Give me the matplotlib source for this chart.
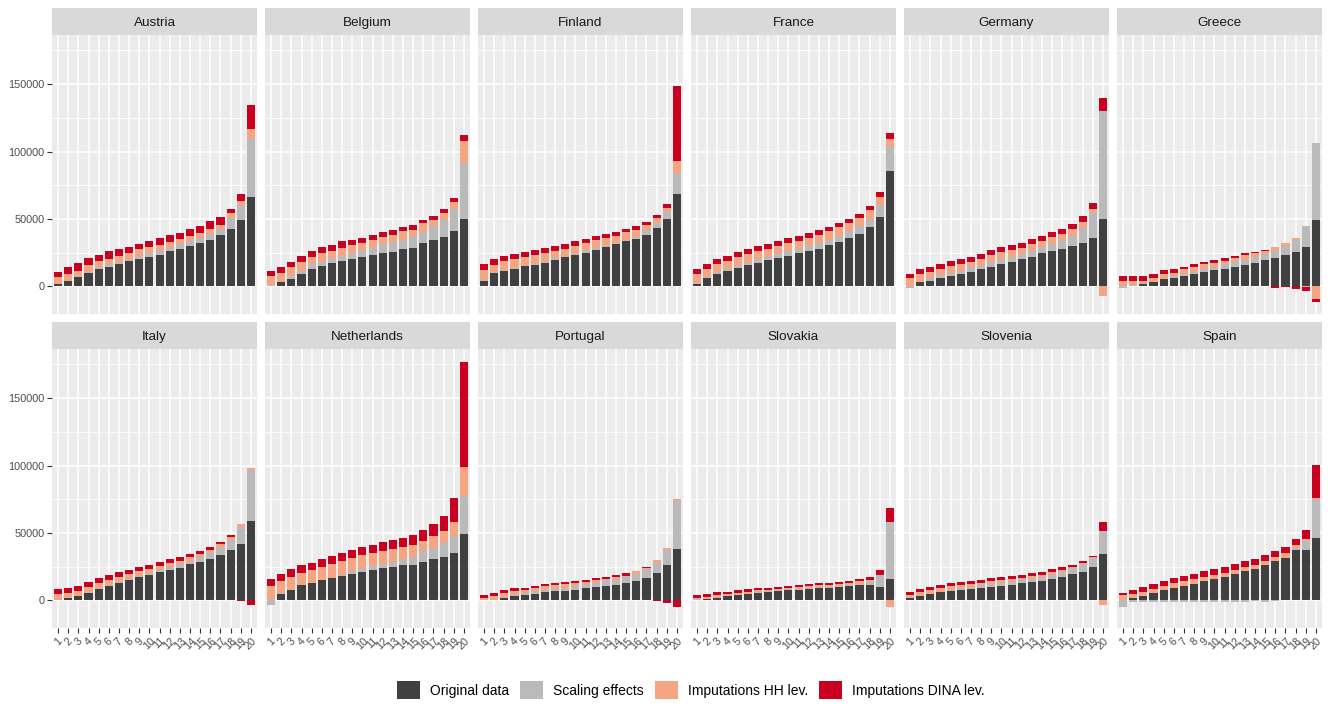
import numpy as np
import matplotlib.pyplot as plt
from matplotlib.patches import Rectangle, Patch

plt.rcParams['font.family'] = ['Liberation Sans', 'DejaVu Sans']

countries = ['Austria', 'Belgium', 'Finland', 'France', 'Germany', 'Greece',
             'Italy', 'Netherlands', 'Portugal', 'Slovakia', 'Slovenia', 'Spain']
groups = [str(i) for i in range(1, 21)]

components = ['Original data', 'Scaling effects', 'Imputations HH lev.', 'Imputations DINA lev.']
colors = ['#404040', '#BABABA', '#F4A582', '#CA0020']

# original data per country (20 groups)
original = {
    'Austria': [1500, 3900, 6900, 9800, 12800, 14300, 16500, 18700, 20200, 21600,
                23600, 26100, 27600, 29800, 32000, 34700, 37900, 42300, 49400, 66400],
    'Belgium': [700, 3000, 5900, 9600, 13300, 15500, 17700, 19200, 20700, 22100,
                23600, 25100, 25800, 28000, 28800, 32500, 34700, 36900, 41300, 50200],
    'Finland': [4400, 9800, 11300, 12800, 15000, 16200, 17700, 19400, 21600, 23600,
                25100, 27300, 29500, 31200, 33500, 35400, 38400, 43500, 50200, 68600],
    'France': [2200, 6200, 8900, 11800, 14000, 16200, 17700, 19900, 21400, 22900,
               25100, 26600, 28000, 31000, 33200, 36200, 39100, 44300, 51700, 85600],
    'Germany': [500, 3000, 4400, 6600, 8100, 9600, 11100, 13300, 14800, 17000,
                18500, 20700, 22100, 25100, 26600, 28000, 30300, 32500, 36200, 50200],
    'Greece': [0, 700, 1500, 3000, 5200, 6600, 8100, 9600, 11100, 12500,
               13300, 14800, 16200, 17700, 19900, 21400, 23600, 25800, 29500, 49400],
    'Italy': [0, 1500, 3200, 5500, 8400, 10700, 12900, 15100, 17400, 18800,
              21100, 22600, 24100, 27000, 28500, 30500, 33500, 37200, 41700, 58800],
    'Netherlands': [0, 4500, 7400, 11200, 12600, 14900, 16400, 17900, 19300, 20800,
                    22300, 23800, 24600, 26000, 26000, 28300, 30500, 32000, 35000, 49100],
    'Portugal': [0, 500, 1500, 3000, 3700, 4500, 6000, 6700, 6700, 7400,
                 8900, 9700, 10400, 11200, 12600, 14100, 16400, 20100, 26000, 37900],
    'Slovakia': [500, 1200, 2000, 3200, 4000, 4700, 5500, 6200, 6700, 7700,
                 7700, 8400, 9200, 9200, 9900, 10700, 11400, 11400, 9900, 15900],
    'Slovenia': [1700, 3200, 4700, 6200, 6900, 7700, 8400, 9200, 9900, 10700,
                 11400, 12900, 13600, 14400, 15900, 17400, 19600, 21100, 24800, 34500],
    'Spain': [0, 1500, 3000, 5200, 7400, 8900, 10400, 11900, 14100, 15600,
              17100, 19300, 21600, 23100, 26000, 29000, 31200, 37200, 37200, 46100],
}

scaling = {
    'Austria': [500, 300, 500, 700, 1500, 2000, 1200, 1000, 2000, 3000,
                2500, 2500, 3700, 4200, 4200, 4400, 4900, 8100, 10300, 43000],
    'Belgium': [500, 200, 1500, 2200, 3000, 3000, 3700, 3700, 4400, 5200,
                5200, 6200, 6900, 6600, 8600, 8100, 9800, 12500, 16200, 41300],
    'Finland': [500, 700, 1000, 1000, 300, 700, 500, 1500, 500, 500,
                1700, 1200, 700, 1200, 1200, 1500, 3200, 3700, 5200, 15500],
    'France': [500, 500, 1500, 1500, 1000, 1500, 3000, 2200, 3000, 3700,
               3000, 3700, 4400, 3700, 4400, 5200, 5900, 5900, 8900, 17700],
    'Germany': [-1200, 500, 2200, 2200, 2200, 2200, 3000, 2200, 3000, 3000,
                3700, 3700, 4400, 4400, 5200, 6600, 7400, 11100, 19200, 79700],
    'Greece': [-800, 500, 700, 0, 700, 1500, 1500, 2200, 2200, 2200,
               3700, 4400, 3700, 4400, 4400, 5200, 6600, 8900, 15500, 56800],
    'Italy': [500, 500, 300, 700, 500, 500, 700, 500, 700, 1500,
              1200, 2000, 2700, 1200, 3500, 4500, 5200, 7400, 12600, 37900],
    'Netherlands': [-3000, 700, 500, 500, 0, 0, 200, 700, 2200, 3000,
                    3000, 3000, 3700, 4500, 6000, 8200, 8200, 11200, 12600, 28300],
    'Portugal': [0, 0, 700, 1500, 1500, 2200, 1500, 1500, 2200, 3000,
                 3000, 3000, 4500, 4500, 5200, 5200, 6700, 7400, 11200, 35700],
    'Slovakia': [1000, 200, 200, 200, 200, 200, 500, 500, 700, 500,
                 700, 700, 700, 1500, 700, 1500, 700, 3000, 8900, 42400],
    'Slovenia': [700, 200, 200, 200, 1000, 1500, 1500, 2000, 2200, 2200,
                 2200, 2200, 2200, 3000, 3000, 3700, 4500, 6000, 6700, 17100],
    'Spain': [-4500, -1200, -1200, -1200, -1200, -1200, -1200, -1200, -1200, -1200,
              -1200, -1200, -1200, -700, -1200, -500, 0, 1500, 6700, 29000],
}

imp_hh = {
    'Austria': [4900, 5400, 4400, 5400, 4400, 4200, 4900, 5400, 5700, 4400,
                4700, 4400, 3900, 3700, 3400, 3400, 3000, 3700, 3700, 7600],
    'Belgium': [6200, 6600, 6900, 6600, 5900, 6600, 5200, 5900, 5900, 5200,
                5900, 5700, 5700, 6200, 4700, 6200, 4900, 5200, 4900, 16200],
    'Finland': [7000, 5700, 6900, 6900, 6900, 6600, 6900, 5700, 5900, 6200,
                5400, 6200, 5900, 5200, 5900, 5200, 4200, 3700, 3000, 8900],
    'France': [6200, 5900, 5900, 5900, 7100, 6600, 5900, 5900, 5900, 5400,
               5900, 5900, 5900, 6600, 6600, 5900, 5900, 6600, 5900, 5900],
    'Germany': [6000, 5400, 4400, 4400, 5200, 5200, 4400, 5200, 5200, 5200,
                5200, 4400, 5200, 4400, 5200, 4400, 5200, 4400, 2200, -7400],
    'Greece': [3700, 2500, 2200, 3000, 3000, 2200, 3000, 3000, 3000, 3000,
               2200, 2200, 3700, 3000, 2200, 3000, 2200, 1500, -300, -9600],
    'Italy': [4000, 3500, 3500, 3500, 3700, 3700, 3500, 3700, 3500, 2700,
              3000, 3000, 2200, 3700, 2200, 2200, 3000, 2200, 2200, 1500],
    'Netherlands': [10400, 8900, 9200, 8400, 9700, 9700, 10200, 10400, 9700, 9700,
                    9700, 9700, 9700, 8900, 8900, 7400, 8900, 8200, 10400, 21600],
    'Portugal': [2200, 2500, 3000, 2200, 2200, 2200, 3000, 3000, 3000, 2200,
                 1500, 2200, 700, 1500, 700, 2200, 700, 2200, 1500, 1500],
    'Slovakia': [700, 1500, 1500, 1700, 1700, 1700, 1500, 1000, 1000, 1000,
                 1500, 1500, 1500, 700, 1500, 700, 2200, 700, 0, -4500],
    'Slovenia': [1500, 2700, 2700, 2700, 2700, 2200, 2200, 1700, 2200, 2200,
                 2200, 1500, 2200, 1500, 2200, 1500, 700, 700, 700, -3000],
    'Spain': [3700, 3000, 3000, 3000, 3000, 3700, 3700, 3700, 3000, 3000,
              3000, 3000, 3000, 3000, 3000, 3000, 3700, 2200, 1500, 700],
}

imp_dina = {
    'Austria': [4200, 4900, 5900, 5400, 4900, 5700, 5400, 4400, 3900, 4400,
                4900, 4900, 4700, 4700, 5200, 5700, 5900, 3400, 4900, 17200],
    'Belgium': [4400, 4400, 4200, 4400, 4400, 4400, 4400, 4700, 3700, 3700,
                3400, 3700, 3700, 3400, 3700, 2700, 3000, 3000, 3200, 4400],
    'Finland': [4400, 4400, 3700, 3700, 3700, 3700, 3700, 3700, 3700, 3700,
                3200, 3000, 3000, 3000, 2200, 3000, 2200, 2200, 3000, 55400],
    'France': [3700, 3700, 3700, 3700, 3700, 3700, 3700, 3700, 3700, 4200,
               3700, 3700, 3700, 3000, 3000, 3000, 3000, 3000, 3700, 4400],
    'Germany': [2700, 3700, 3700, 3700, 3700, 3700, 3700, 3700, 3700, 3700,
                3700, 3700, 3700, 3700, 3700, 3700, 3700, 4400, 4400, 9600],
    'Greece': [3700, 3700, 3000, 3000, 3000, 3000, 2200, 2200, 2200, 2200,
               2200, 1500, 1500, 700, 700, -1000, -700, -2200, -3400, -2200],
    'Italy': [4000, 3700, 3700, 3700, 3700, 3700, 3700, 3000, 3000, 3000,
              3000, 3000, 3000, 2200, 2200, 2200, 1500, 1500, -700, -3700],
    'Netherlands': [5200, 5200, 6000, 6000, 5200, 6000, 6000, 6000, 6000, 6000,
                    6000, 6700, 6700, 6700, 7400, 8200, 8900, 11200, 17900, 78100],
    'Portugal': [2200, 2200, 2200, 2200, 2200, 2200, 1500, 1500, 1500, 1500,
                 1500, 1500, 1500, 1500, 1500, 700, 700, -700, -2200, -5200],
    'Slovakia': [1500, 1700, 2500, 1500, 1500, 1700, 1700, 1500, 1500, 1500,
                 1500, 1500, 1500, 1500, 1500, 1500, 1500, 2200, 3700, 10400],
    'Slovenia': [2200, 2200, 2200, 2200, 2200, 2200, 2200, 2200, 2200, 2200,
                 2200, 2200, 2200, 2200, 2200, 2000, 1500, 1500, 700, 6700],
    'Spain': [2200, 3200, 3700, 3700, 3700, 3700, 3700, 3700, 4500, 4500,
              4500, 4500, 4500, 4500, 4500, 4500, 4500, 4500, 6700, 24600],
}

series = [original, scaling, imp_hh, imp_dina]

fig = plt.figure(figsize=(13.28, 7.04), dpi=100)
axes = fig.subplots(2, 6, sharex=True, sharey=True)
fig.subplots_adjust(left=52 / 1328, right=1322 / 1328, top=1 - 35 / 704,
                    bottom=1 - 628 / 704, wspace=8 / 205, hspace=35 / 279)

x = np.arange(1, 21)
strip_h = 27 / 279

for i, (ax, country) in enumerate(zip(axes.flat, countries)):
    ax.set_facecolor('#EBEBEB')
    for s in ax.spines.values():
        s.set_visible(False)

    # ggplot-like stacking: positives upward, negatives downward
    pos_base = np.zeros(20)
    neg_base = np.zeros(20)
    for data, col in zip(series, colors):
        vals = np.array(data[country], dtype=float)
        pos = np.where(vals > 0, vals, 0)
        neg = np.where(vals < 0, vals, 0)
        ax.bar(x, pos, bottom=pos_base, width=0.8, color=col, linewidth=0, zorder=2)
        ax.bar(x, neg, bottom=neg_base, width=0.8, color=col, linewidth=0, zorder=2)
        pos_base += pos
        neg_base += neg

    ax.set_xlim(0.4, 20.6)
    ax.set_ylim(-20400, 186400)
    ax.set_xticks(x)
    ax.set_xticklabels(groups)
    ax.set_yticks([0, 50000, 100000, 150000])
    ax.set_yticks([25000, 75000, 125000, 175000], minor=True)
    ax.grid(which='major', color='white', linewidth=1.1, zorder=0)
    ax.grid(which='minor', axis='y', color='white', linewidth=0.55, zorder=0)
    ax.set_axisbelow(True)
    ax.tick_params(which='major', length=3.5, width=0.8, color='#333333',
                   labelcolor='#4D4D4D', labelsize=7.8, pad=2)
    ax.tick_params(which='minor', length=0)
    ax.yaxis.set_major_formatter(plt.FuncFormatter(lambda v, p: f'{int(v)}'))
    if i % 6 != 0:
        ax.tick_params(axis='y', which='both', left=False)
    if i < 6:
        ax.tick_params(axis='x', which='both', bottom=False)

    # facet strip
    ax.add_patch(Rectangle((0, 1), 1, strip_h, transform=ax.transAxes,
                           facecolor='#D9D9D9', edgecolor='none', clip_on=False))
    ax.text(0.5, 1 + 9 / 279, country, transform=ax.transAxes,
            ha='center', va='baseline', fontsize=9.7, color='#1A1A1A')

for ax in axes[1]:
    for lab in ax.get_xticklabels():
        lab.set_rotation(45)
        lab.set_ha('center')
        lab.set_va('top')

handles = [Patch(facecolor=c, edgecolor='none', label=l) for c, l in zip(colors, components)]
fig.legend(handles=handles, loc='center', ncol=4, frameon=False,
           bbox_to_anchor=(691 / 1328, 1 - 690 / 704), fontsize=10,
           handlelength=1.65, handleheight=1.65, handletextpad=0.72, columnspacing=0.8)

fig.savefig('out.png', dpi=100)
